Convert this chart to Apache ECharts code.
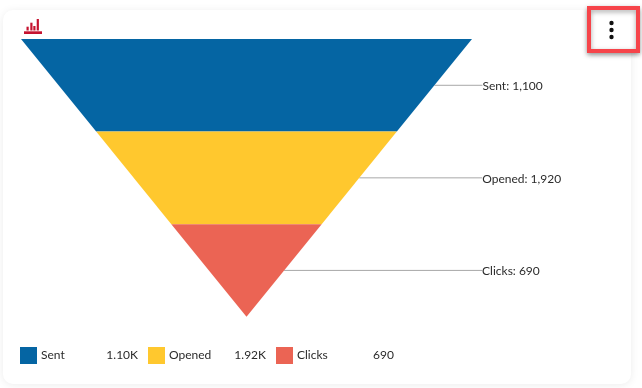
<!DOCTYPE html>
<html>
<head>
<meta charset="utf-8">
<style>
html,body{margin:0;padding:0;background:#fff;width:642px;height:388px;overflow:hidden}
#chart{position:absolute;left:0;top:0;width:642px;height:388px}
</style>
<script src="https://cdn.jsdelivr.net/npm/echarts@6/dist/echarts.min.js"></script>
</head>
<body>
<div id="chart"></div>
<script>
var categories = ['Sent', 'Opened', 'Clicks'];
var sentValues = [1100, 1920, 690];
var legendValues = ['1.10K', '1.92K', '690'];
// The reference funnel is drawn with equal steps, whatever the value: these are its stage widths.
var stepWidths = [3, 2, 1];
var colors = ['#0565a3', '#ffc82e', '#eb6454'];
var leaderLengths = [48, 123, 198];

var chart = echarts.init(document.getElementById('chart'), null, {renderer: 'canvas'});
var font = 'Lato, "Open Sans", sans-serif';
var iconRed = '#c5122f';
var textColor = '#2b2b2b';

chart.setOption({
  animation: false,
  textStyle: {fontFamily: font},
  legend: {
    left: 20, top: 347, padding: 0,
    itemWidth: 17, itemHeight: 17, itemGap: 10,
    icon: 'rect',
    selectedMode: false,
    data: categories,
    formatter: function (name) {
      return '{n|' + name + '}{v|' + legendValues[categories.indexOf(name)] + '}';
    },
    textStyle: {
      padding: [0, 0, 0, -1],
      rich: {
        n: {width: 60, align: 'left', fontSize: 12, fontFamily: font, color: textColor},
        v: {width: 37, align: 'right', fontSize: 12, fontFamily: font, color: textColor}
      }
    }
  },
  graphic: [
    {type: 'rect', z: -10, shape: {x: 3, y: 10, width: 628, height: 374, r: 10},
      style: {fill: '#fff', shadowBlur: 8, shadowColor: 'rgba(0,0,0,0.08)', shadowOffsetY: 1}},
    // chart-type icon
    {type: 'group', z: 10, children: [
      {type: 'rect', shape: {x: 24, y: 31.3, width: 18, height: 2.7}, style: {fill: iconRed}},
      {type: 'rect', shape: {x: 26.5, y: 26.7, width: 2.2, height: 3.8}, style: {fill: iconRed}},
      {type: 'rect', shape: {x: 30.3, y: 22.7, width: 2.2, height: 7.8}, style: {fill: iconRed}},
      {type: 'rect', shape: {x: 33.3, y: 26, width: 2.2, height: 4.5}, style: {fill: iconRed}},
      {type: 'rect', shape: {x: 36.7, y: 19, width: 2.2, height: 11.5}, style: {fill: iconRed}}
    ]},
    // highlighted menu button
    {type: 'rect', z: 20, shape: {x: 589, y: 8, width: 49, height: 43},
      style: {fill: '#fff', stroke: '#f6444a', lineWidth: 4, shadowBlur: 5, shadowColor: 'rgba(0,0,0,0.35)', shadowOffsetY: 2}},
    {type: 'circle', z: 21, shape: {cx: 611.5, cy: 23, r: 2.2}, style: {fill: '#111'}},
    {type: 'circle', z: 21, shape: {cx: 611.5, cy: 30, r: 2.2}, style: {fill: '#111'}},
    {type: 'circle', z: 21, shape: {cx: 611.5, cy: 37, r: 2.2}, style: {fill: '#111'}}
  ],
  series: [{
    type: 'funnel',
    left: 21, top: 39, width: 451, height: 277.7,
    min: 0, max: 3, minSize: 0, maxSize: '100%',
    sort: 'none', gap: 0,
    silent: true,
    label: {
      show: true, position: 'right',
      fontSize: 12, fontFamily: font, color: textColor,
      formatter: function (p) {
        return p.name + ': ' + sentValues[p.dataIndex].toLocaleString('en-US');
      }
    },
    labelLayout: {dx: -5, dy: 1},
    labelLine: {show: true, lineStyle: {color: '#a8a8a8', width: 1}},
    itemStyle: {borderWidth: 0},
    data: categories.map(function (name, i) {
      return {
        name: name,
        value: stepWidths[i],
        itemStyle: {color: colors[i]},
        labelLine: {length: leaderLengths[i]}
      };
    })
  }]
});
</script>
</body>
</html>
